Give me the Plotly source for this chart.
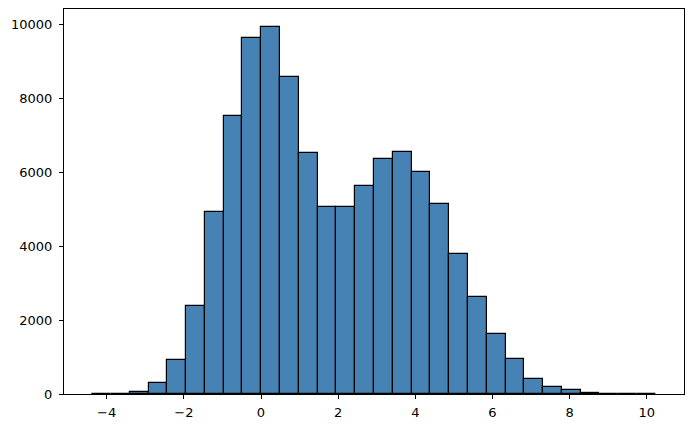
import numpy as np
import plotly.graph_objects as go

# Histogram definition (30 equal bins) and counts
bin_min = -4.376
bin_max = 10.234
n_bins = 30
counts = [2, 10, 60, 302, 932, 2392, 4927, 7505, 9622, 9911,
          8568, 6505, 5045, 5045, 5613, 6343, 6532, 5991, 5126, 3776,
          2627, 1616, 959, 409, 200, 95, 38, 8, 3, 1]
x_ticks = [-4, -2, 0, 2, 4, 6, 8, 10]
x_tick_labels = ["−4", "−2", "0", "2", "4", "6", "8", "10"]
y_ticks = [0, 2000, 4000, 6000, 8000, 10000]
y_tick_labels = ["0", "2000", "4000", "6000", "8000", "10000"]

edges = np.linspace(bin_min, bin_max, n_bins + 1)
centers = (edges[:-1] + edges[1:]) / 2
width = edges[1] - edges[0]

fig = go.Figure(go.Bar(
    x=centers, y=counts, width=width,
    marker=dict(color="#4682B4", line=dict(color="black", width=1.2)),
    hoverinfo="x+y",
))

span = bin_max - bin_min
axis_common = dict(
    showline=True, linecolor="black", linewidth=1, mirror=True,
    ticks="outside", ticklen=4, tickwidth=1, tickcolor="black",
    showgrid=False, zeroline=False, automargin=False,
    tickfont=dict(family="DejaVu Sans", size=13, color="black"),
)
fig.update_xaxes(range=[bin_min - 0.05 * span, bin_max + 0.05 * span],
                 tickvals=x_ticks, ticktext=x_tick_labels,
                 ticklabelstandoff=2, **axis_common)
fig.update_yaxes(range=[0, max(counts) * 1.05],
                 tickvals=y_ticks, ticktext=y_tick_labels,
                 ticklabelstandoff=4, **axis_common)

fig.update_layout(
    width=693, height=428,
    margin=dict(l=64, r=9, t=9, b=34, autoexpand=False),
    plot_bgcolor="white", paper_bgcolor="white",
    showlegend=False, bargap=0,
)

fig.write_html(
    "out.html",
    config={"displayModeBar": False},
    post_script="document.body.style.margin='0';document.body.style.overflow='hidden';",
)
